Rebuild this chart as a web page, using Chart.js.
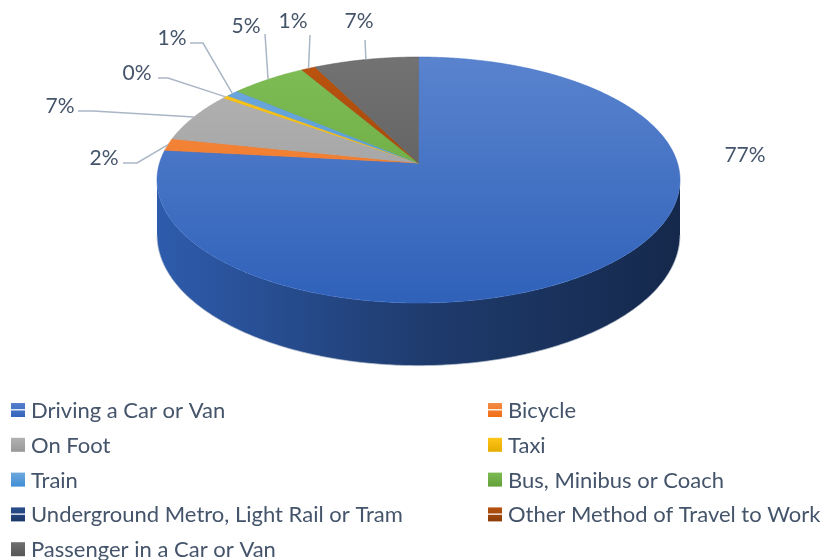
<!DOCTYPE html>
<html>
<head>
<meta charset="utf-8">
<title>Travel to work</title>
<script src="https://cdn.jsdelivr.net/npm/chart.js@4.4.1/dist/chart.umd.min.js"></script>
<style>
    html, body { margin: 0; padding: 0; background: #ffffff; }
    #wrap { width: 825px; height: 560px; position: relative; }
</style>
</head>
<body>
<div id="wrap"><canvas id="travelChart"></canvas></div>
<script>
// Data
const categories = [
    'Driving a Car or Van',
    'Bicycle',
    'On Foot',
    'Taxi',
    'Train',
    'Bus, Minibus or Coach',
    'Underground Metro, Light Rail or Tram',
    'Other Method of Travel to Work',
    'Passenger in a Car or Van'
];
const shares = [76.7, 1.6, 6.6, 0.4, 0.9, 5.4, 0, 1.0, 7.4];
const sliceColors = ['#4472c4', '#ed7d31', '#a5a5a5', '#ffc000', '#5b9bd5', '#70ad47', '#264478', '#9e480e', '#636363'];
const stripedMarker = [true, true, false, false, false, false, true, true, false];

// Label placement (text centre + leader start points; the leader ends on the slice)
const labelSpots = [
    { x: 745, y: 155, stub: [] },
    { x: 104, y: 158, stub: [[123, 163], [137, 163]] },
    { x: 60, y: 106, stub: [[78, 111], [93, 111]] },
    { x: 137, y: 73, stub: [[158, 78], [168, 78]] },
    { x: 172, y: 38, stub: [[190, 43], [203, 43]] },
    { x: 246, y: 26, stub: [[265, 34]] },
    null,
    { x: 293, y: 21, stub: [[310, 35]] },
    { x: 359, y: 21, stub: [[365, 40]] }
];

const TEXT_COLOR = '#44546a';
const LEADER_COLOR = '#aab6c6';
const LABEL_FONT = '21px Lato';
const LEGEND_FONT = '22px Lato';
const PERSPECTIVE = 0.138;
const DEPTH = 54;

// Colour helpers (HSL shifts)
function toHsl(hex) {
    const n = parseInt(hex.slice(1), 16);
    const r = (n >> 16) / 255, g = ((n >> 8) & 255) / 255, b = (n & 255) / 255;
    const max = Math.max(r, g, b), min = Math.min(r, g, b);
    let h = 0, s = 0;
    const l = (max + min) / 2;
    if (max !== min) {
        const d = max - min;
        s = l > 0.5 ? d / (2 - max - min) : d / (max + min);
        if (max === r) h = (g - b) / d + (g < b ? 6 : 0);
        else if (max === g) h = (b - r) / d + 2;
        else h = (r - g) / d + 4;
        h *= 60;
    }
    return [h, s * 100, l * 100];
}

function tone(hex, dS, dL) {
    const [h, s, l] = toHsl(hex);
    const s2 = s === 0 ? 0 : Math.min(100, Math.max(0, s + dS));
    const l2 = Math.min(100, Math.max(0, l + dL));
    return `hsl(${h.toFixed(1)}, ${s2.toFixed(1)}%, ${l2.toFixed(1)}%)`;
}

// Perspective ellipse fitted into the chart area
function makeGeo(area) {
    const p = PERSPECTIVE;
    const B = (area.bottom - area.top) * (1 - p * p) / 2;
    return {
        p: p,
        cx: (area.left + area.right) / 2,
        y0: area.top + B / (1 + p),
        A: (area.right - area.left) / 2 * Math.sqrt(1 - p * p),
        B: B
    };
}

function rim(g, a, drop) {
    const u = Math.cos(a), v = Math.sin(a);
    const w = 1 - g.p * v;
    return [g.cx + g.A * u / w, g.y0 + (g.B * v + drop) / w];
}

function arcPoints(g, a, b, drop) {
    const pts = [];
    const steps = Math.max(2, Math.ceil(Math.abs(b - a) / 0.01));
    for (let i = 0; i <= steps; i++) {
        pts.push(rim(g, a + (b - a) * i / steps, drop));
    }
    return pts;
}

function tracePath(ctx, pts) {
    pts.forEach((pt, j) => j ? ctx.lineTo(pt[0], pt[1]) : ctx.moveTo(pt[0], pt[1]));
}

const pie3d = {
    id: 'pie3d',
    beforeDatasetsDraw(chart) {
        const ctx = chart.ctx;
        const area = chart.chartArea;
        const g = makeGeo(area);
        const arcs = chart.getDatasetMeta(0).data;
        const lo = Math.asin(g.p), hi = Math.PI - Math.asin(g.p);

        ctx.save();
        // Outer walls (front half only)
        arcs.forEach((arc, i) => {
            const s = arc.startAngle, e = arc.endAngle;
            if (e - s <= 0) return;
            for (let k = -1; k <= 1; k++) {
                const a = Math.max(s, lo + 2 * Math.PI * k);
                const b = Math.min(e, hi + 2 * Math.PI * k);
                if (b <= a) continue;
                const top = arcPoints(g, a, b, 0);
                const bottom = arcPoints(g, b, a, DEPTH);
                ctx.beginPath();
                tracePath(ctx, top.concat(bottom));
                ctx.closePath();
                const grad = ctx.createLinearGradient(area.left, 0, area.right, 0);
                grad.addColorStop(0, tone(sliceColors[i], 6, -9));
                grad.addColorStop(0.5, tone(sliceColors[i], 4, -24));
                grad.addColorStop(1, tone(sliceColors[i], 5, -33));
                ctx.fillStyle = grad;
                ctx.fill();
                // faint rim along the bottom edge
                ctx.beginPath();
                tracePath(ctx, bottom);
                ctx.strokeStyle = 'rgba(185, 195, 210, 0.7)';
                ctx.lineWidth = 1;
                ctx.stroke();
            }
        });

        // Top faces
        arcs.forEach((arc, i) => {
            const s = arc.startAngle, e = arc.endAngle;
            if (e - s <= 0) return;
            ctx.beginPath();
            ctx.moveTo(g.cx, g.y0);
            arcPoints(g, s, e, 0).forEach(pt => ctx.lineTo(pt[0], pt[1]));
            ctx.closePath();
            const grad = ctx.createLinearGradient(0, area.top, 0, area.bottom);
            grad.addColorStop(0, tone(sliceColors[i], 2, 6));
            grad.addColorStop(1, tone(sliceColors[i], 7, -6));
            ctx.fillStyle = grad;
            ctx.fill();
            ctx.strokeStyle = tone(sliceColors[i], 4, -2);
            ctx.lineWidth = 0.5;
            ctx.stroke();
        });
        ctx.restore();
        return false;
    },
    afterDraw(chart) {
        const ctx = chart.ctx;
        const g = makeGeo(chart.chartArea);
        const arcs = chart.getDatasetMeta(0).data;
        const total = shares.reduce((a, b) => a + b, 0);

        ctx.save();
        // Data labels with leader lines
        ctx.font = LABEL_FONT;
        ctx.textAlign = 'center';
        ctx.textBaseline = 'middle';
        arcs.forEach((arc, i) => {
            const spot = labelSpots[i];
            if (!spot || shares[i] <= 0) return;
            if (spot.stub.length) {
                const end = rim(g, (arc.startAngle + arc.endAngle) / 2, 0);
                ctx.beginPath();
                tracePath(ctx, spot.stub.concat([end]));
                ctx.strokeStyle = LEADER_COLOR;
                ctx.lineWidth = 1.5;
                ctx.stroke();
            }
            ctx.fillStyle = TEXT_COLOR;
            ctx.fillText(Math.round(shares[i] / total * 100) + '%', spot.x, spot.y);
        });

        // Legend, two columns
        ctx.font = LEGEND_FONT;
        ctx.textAlign = 'left';
        categories.forEach((name, i) => {
            const mx = i % 2 === 0 ? 11 : 488;
            const my = 410 + Math.floor(i / 2) * 34.8;
            const grad = ctx.createLinearGradient(0, my - 7, 0, my + 7);
            grad.addColorStop(0, tone(sliceColors[i], 2, 5));
            grad.addColorStop(1, tone(sliceColors[i], 5, -5));
            ctx.fillStyle = grad;
            ctx.fillRect(mx, my - 7, 14, 14);
            if (stripedMarker[i]) {
                ctx.fillStyle = 'rgba(255,255,255,0.85)';
                ctx.fillRect(mx, my - 1, 14, 1.5);
            }
            ctx.fillStyle = TEXT_COLOR;
            ctx.fillText(name, mx + 20, my + 1);
        });
        ctx.restore();
    }
};

// Chart
const travelCtx = document.getElementById('travelChart').getContext('2d');
const travelChart = new Chart(travelCtx, {
    type: 'pie',
    data: {
        labels: categories,
        datasets: [{
            data: shares,
            backgroundColor: sliceColors,
            borderWidth: 0
        }]
    },
    options: {
        responsive: true,
        maintainAspectRatio: false,
        animation: false,
        events: [],
        layout: {
            padding: { left: 157, right: 145, top: 57, bottom: 257 }
        },
        plugins: {
            legend: { display: false },
            tooltip: { enabled: false }
        }
    },
    plugins: [pie3d]
});
</script>
</body>
</html>
